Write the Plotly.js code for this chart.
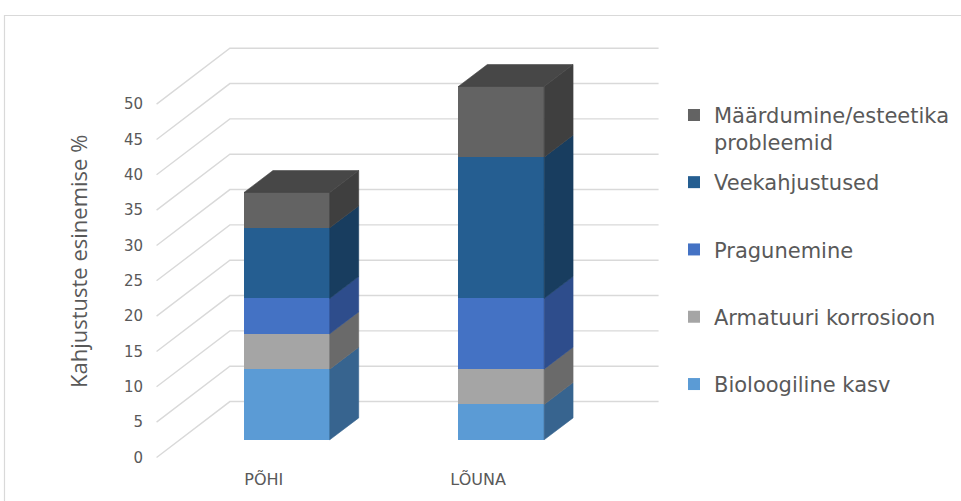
<!DOCTYPE html>
<html>
<head>
<meta charset="utf-8">
<script src="https://cdn.plot.ly/plotly-3.0.1.min.js"></script>
<style>
  html, body { margin: 0; padding: 0; background: #ffffff; }
  #chart { width: 961px; height: 501px; }
</style>
</head>
<body>
<div id="chart"></div>
<script>
// ---- data ----
const categories = ['PÕHI', 'LÕUNA'];
const seriesNames = [
  'Bioloogiline kasv',
  'Armatuuri korrosioon',
  'Pragunemine',
  'Veekahjustused',
  'Määrdumine/esteetika<br>probleemid'
];
const bioloogilineKasv    = [10, 5];
const armatuuriKorrosioon = [5, 5];
const pragunemine         = [5, 10];
const veekahjustused      = [10, 20];
const maardumine          = [5, 10];
const yTickValues = [0, 5, 10, 15, 20, 25, 30, 35, 40, 45, 50];

// ---- colours: front face, shaded side face ----
const frontColors = ['#5B9BD5', '#A5A5A5', '#4472C4', '#255E91', '#636363'];
const sideColors  = ['#37648F', '#6A6A6A', '#2E4D8C', '#183D5F', '#3F3F3F'];
const topColor = '#474747';
const gridColor = '#D9D9D9';
const textColor = '#595959';

// ---- oblique 3-D geometry (x in category units, y in value units) ----
const BAR_W = 0.4;          // front width of a column
const BAR_DX = 0.135;       // column depth, horizontal component
const BAR_DY = 3.1;         // column depth, vertical component
const FLOOR_TO_BAR = { dx: 0.108, dy: 2.5 };   // front floor edge -> column front plane
const FLOOR_DEPTH  = { dx: 0.342, dy: 7.91 };  // front floor edge -> back wall

const series = [bioloogilineKasv, armatuuriKorrosioon, pragunemine, veekahjustused, maardumine];
const xPos = categories.map((_, i) => i);

const traces = [];
const stackBase = categories.map(() => 0);

series.forEach((vals, s) => {
  // front faces
  traces.push({
    type: 'bar',
    x: xPos,
    y: vals,
    width: BAR_W,
    name: seriesNames[s],
    marker: { color: frontColors[s], line: { width: 0 } },
    legend: s === 4 ? 'legend2' : 'legend',
    legendgroup: 'g' + s,
    legendrank: 100 - s,      // topmost series listed first
    hoverinfo: 'skip'
  });
  // right-hand side faces
  const sx = [], sy = [];
  vals.forEach((v, i) => {
    const b = stackBase[i], t = b + v;
    const xr = xPos[i] + BAR_W / 2;
    sx.push(xr, xr + BAR_DX, xr + BAR_DX, xr, xr, null);
    sy.push(b, b + BAR_DY, t + BAR_DY, t, b, null);
    stackBase[i] = t;
  });
  traces.push({
    type: 'scatter', mode: 'lines', x: sx, y: sy,
    fill: 'toself', fillcolor: sideColors[s],
    line: { width: 0.6, color: sideColors[s] },
    showlegend: false, hoverinfo: 'skip'
  });
});

// lids of the stacks
const tx = [], ty = [];
stackBase.forEach((T, i) => {
  const xl = xPos[i] - BAR_W / 2, xr = xPos[i] + BAR_W / 2;
  tx.push(xl, xr, xr + BAR_DX, xl + BAR_DX, xl, null);
  ty.push(T, T, T + BAR_DY, T + BAR_DY, T, null);
});
traces.push({
  type: 'scatter', mode: 'lines', x: tx, y: ty,
  fill: 'toself', fillcolor: topColor,
  line: { width: 0.6, color: topColor },
  showlegend: false, hoverinfo: 'skip'
});

// ---- wall / floor grid lines ----
const floorLeft = -0.5 - FLOOR_TO_BAR.dx;
const floorRight = categories.length - 0.5 - FLOOR_TO_BAR.dx;
const wallLeft = floorLeft + FLOOR_DEPTH.dx;
const wallRight = floorRight + FLOOR_DEPTH.dx;
const shapes = yTickValues.map(v => {
  const yf = v - FLOOR_TO_BAR.dy;
  const yw = yf + FLOOR_DEPTH.dy;
  return {
    type: 'path', xref: 'x', yref: 'y', layer: 'below',
    path: `M ${floorLeft},${yf} L ${wallLeft},${yw} L ${wallRight},${yw}`,
    line: { color: gridColor, width: 1.4 }
  };
});
// chart frame
shapes.push({
  type: 'rect', xref: 'paper', yref: 'paper', layer: 'below',
  x0: -0.2943, x1: 1.8, y0: -0.3, y1: 1.0507,
  line: { color: gridColor, width: 1.2 }, fillcolor: 'rgba(0,0,0,0)'
});

const layout = {
  width: 961, height: 501,
  margin: { l: 154, r: 299, t: 37, b: 40, pad: 0, autoexpand: false },
  paper_bgcolor: '#ffffff', plot_bgcolor: 'rgba(0,0,0,0)',
  barmode: 'stack',
  showlegend: true,
  font: { family: 'DejaVu Sans, Verdana, sans-serif', color: textColor },
  xaxis: {
    range: [-0.62, 1.75], showgrid: false, zeroline: false, showline: false,
    tickmode: 'array',
    tickvals: xPos.map(i => i - FLOOR_TO_BAR.dx),
    ticktext: categories,
    ticks: '', ticklabelstandoff: 7,
    tickfont: { family: 'DejaVu Sans', size: 16, color: textColor },
    fixedrange: true
  },
  yaxis: {
    range: [-3, 57], showgrid: false, zeroline: false, showline: false,
    tickmode: 'array',
    tickvals: yTickValues.map(v => v - FLOOR_TO_BAR.dy),
    ticktext: yTickValues.map(String),
    ticks: '', ticklabelstandoff: 10,
    tickfont: { family: 'DejaVu Sans', size: 15, color: textColor },
    fixedrange: true
  },
  legend: {
    x: 1.0236, xanchor: 'left', y: 0.7052, yanchor: 'top',
    traceorder: 'grouped', tracegroupgap: 37,
    bgcolor: 'rgba(0,0,0,0)', borderwidth: 0,
    font: { family: 'DejaVu Sans', size: 21, color: textColor }
  },
  legend2: {
    x: 1.0236, xanchor: 'left', y: 0.8636, yanchor: 'top',
    valign: 'top',
    bgcolor: 'rgba(0,0,0,0)', borderwidth: 0,
    font: { family: 'DejaVu Sans', size: 21, color: textColor }
  },
  annotations: [{
    text: 'Kahjustuste esinemise %',
    xref: 'paper', yref: 'paper', x: -0.1496, y: 0.4693,
    xanchor: 'center', yanchor: 'middle', textangle: -90, showarrow: false,
    font: { family: 'Open Sans', size: 22, color: textColor }
  }],
  shapes: shapes
};

Plotly.newPlot('chart', traces, layout, { displayModeBar: false, staticPlot: true });
</script>
</body>
</html>
